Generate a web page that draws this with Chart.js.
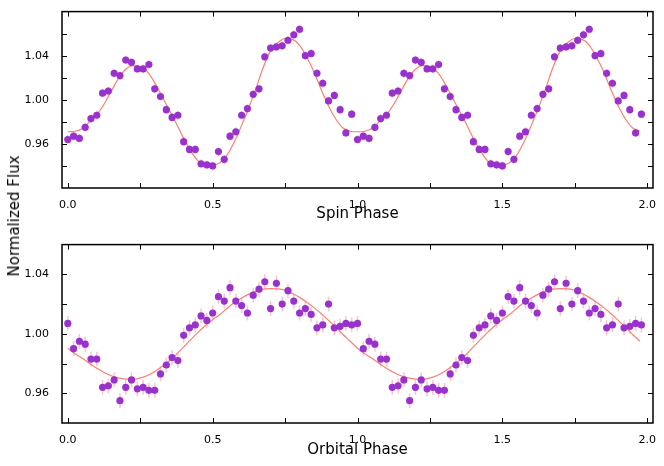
<!DOCTYPE html>
<html>
<head>
<meta charset="utf-8">
<script src="https://cdn.jsdelivr.net/npm/chart.js@4.4.1/dist/chart.umd.min.js"></script>
<style>
  body { margin: 0; background: #fff; }
  #wrap { position: relative; width: 664px; height: 466px; font-family: "DejaVu Sans", sans-serif; }
  .panel { position: absolute; left: 0; width: 664px; height: 233px; }
  #ylab { position: absolute; left: 14px; top: 216px; transform: translate(-50%, -50%) rotate(-90deg);
          font-size: 15px; white-space: nowrap; color: #000; }
</style>
</head>
<body>
<div id="wrap">
  <div class="panel" style="top:0"><canvas id="spinChart"></canvas></div>
  <div class="panel" style="top:233px"><canvas id="orbChart"></canvas></div>
  <div id="ylab">Normalized Flux</div>
</div>
<script>
// phase bins of one cycle (the plot shows the cycle twice, 0-2)
const binPhase = [0.00, 0.02, 0.04, 0.06, 0.08, 0.10, 0.12, 0.14, 0.16, 0.18,
                  0.20, 0.22, 0.24, 0.26, 0.28, 0.30, 0.32, 0.34, 0.36, 0.38,
                  0.40, 0.42, 0.44, 0.46, 0.48, 0.50, 0.52, 0.54, 0.56, 0.58,
                  0.60, 0.62, 0.64, 0.66, 0.68, 0.70, 0.72, 0.74, 0.76, 0.78,
                  0.80, 0.82, 0.84, 0.86, 0.88, 0.90, 0.92, 0.94, 0.96, 0.98];

const spinFlux = [0.964, 0.967, 0.965, 0.975, 0.983, 0.986, 1.006, 1.008, 1.024, 1.022,
                  1.036, 1.034, 1.028, 1.028, 1.032, 1.010, 1.003, 0.991, 0.984, 0.986,
                  0.962, 0.955, 0.955, 0.942, 0.941, 0.940, 0.953, 0.946, 0.967, 0.971,
                  0.986, 0.992, 1.005, 1.010, 1.039, 1.047, 1.048, 1.049, 1.054, 1.059,
                  1.064, 1.040, 1.042, 1.024, 1.015, 0.999, 1.004, 0.991, 0.970, 0.987];

const orbFlux = [1.007, 0.990, 0.995, 0.993, 0.983, 0.983, 0.964, 0.965, 0.969, 0.955,
                 0.964, 0.969, 0.963, 0.964, 0.962, 0.962, 0.973, 0.979, 0.984, 0.982,
                 0.999, 1.004, 1.006, 1.012, 1.009, 1.014, 1.025, 1.022, 1.031, 1.022,
                 1.019, 1.014, 1.026, 1.030, 1.035, 1.017, 1.034, 1.020, 1.029, 1.022,
                 1.014, 1.017, 1.013, 1.004, 1.006, 1.020, 1.004, 1.005, 1.007, 1.006];

const fitPhase = [0.000, 0.025, 0.050, 0.075, 0.100, 0.125, 0.150, 0.175, 0.200, 0.225,
                  0.250, 0.275, 0.300, 0.325, 0.350, 0.375, 0.400, 0.425, 0.450, 0.475,
                  0.500, 0.525, 0.550, 0.575, 0.600, 0.625, 0.650, 0.675, 0.700, 0.725,
                  0.750, 0.775, 0.800, 0.825, 0.850, 0.875, 0.900, 0.925, 0.950, 0.975];

const spinFit = [0.9710, 0.9715, 0.9740, 0.9800, 0.9865, 0.9960, 1.0077, 1.0194, 1.0277, 1.0310,
                 1.0303, 1.0253, 1.0156, 1.0032, 0.9909, 0.9782, 0.9650, 0.9532, 0.9444, 0.9405,
                 0.9408, 0.9430, 0.9500, 0.9620, 0.9768, 0.9930, 1.0106, 1.0297, 1.0444, 1.0518,
                 1.0556, 1.0548, 1.0497, 1.0386, 1.0253, 1.0091, 0.9944, 0.9826, 0.9744, 0.9715];

const orbFit = [0.9903, 0.9866, 0.9835, 0.9800, 0.9768, 0.9740, 0.9718, 0.9703, 0.9695, 0.9694,
                0.9703, 0.9720, 0.9747, 0.9780, 0.9817, 0.9862, 0.9912, 0.9962, 1.0011, 1.0056,
                1.0095, 1.0130, 1.0172, 1.0210, 1.0241, 1.0267, 1.0287, 1.0300, 1.0304, 1.0302,
                1.0293, 1.0271, 1.0245, 1.0212, 1.0176, 1.0135, 1.0090, 1.0045, 0.9995, 0.9950];

const spinErr = 0.004;
const orbErr = 0.005;

// ticks
const phaseTicks = [0, 0.25, 0.5, 0.75, 1.0, 1.25, 1.5, 1.75, 2.0];
const phaseLabels = ['0.0', '', '0.5', '', '1.0', '', '1.5', '', '2.0'];
const spinFluxTicks = [0.94, 0.96, 0.98, 1.00, 1.02, 1.04, 1.06];
const spinFluxLabels = ['', '0.96', '', '1.00', '', '1.04', ''];
const orbFluxTicks = [0.96, 0.98, 1.00, 1.02, 1.04];
const orbFluxLabels = ['0.96', '', '1.00', '', '1.04'];

const FONT = '"DejaVu Sans", sans-serif';

// two cycles from one
function twoCycles(xs, ys) {
  const pts = xs.map((p, i) => ({x: p, y: ys[i]}));
  return pts.concat(xs.map((p, i) => ({x: p + 1, y: ys[i]})));
}

// error bars behind the points, black frame and inward ticks
const frameTicks = {
  id: 'frameTicks',
  beforeDatasetsDraw(chart, args, opts) {
    const ctx = chart.ctx, xs = chart.scales.x, ys = chart.scales.y;
    ctx.save();
    ctx.strokeStyle = 'rgba(240,120,160,0.45)';
    ctx.lineWidth = 1.5;
    chart.data.datasets[1].data.forEach(p => {
      const px = xs.getPixelForValue(p.x);
      ctx.beginPath();
      ctx.moveTo(px, ys.getPixelForValue(p.y - opts.err));
      ctx.lineTo(px, ys.getPixelForValue(p.y + opts.err));
      ctx.stroke();
    });
    ctx.restore();
  },
  afterDraw(chart) {
    const ctx = chart.ctx, a = chart.chartArea, xs = chart.scales.x, ys = chart.scales.y;
    const len = 5;
    ctx.save();
    ctx.strokeStyle = '#000';
    ctx.lineWidth = 1;
    xs.ticks.forEach(t => {
      const px = Math.round(xs.getPixelForValue(t.value)) + 0.5;
      ctx.beginPath();
      ctx.moveTo(px, a.bottom); ctx.lineTo(px, a.bottom - len);
      ctx.moveTo(px, a.top); ctx.lineTo(px, a.top + len);
      ctx.stroke();
    });
    ys.ticks.forEach(t => {
      const py = Math.round(ys.getPixelForValue(t.value)) + 0.5;
      ctx.beginPath();
      ctx.moveTo(a.left, py); ctx.lineTo(a.left + len, py);
      ctx.moveTo(a.right, py); ctx.lineTo(a.right - len, py);
      ctx.stroke();
    });
    ctx.lineWidth = 1.5;
    ctx.strokeRect(a.left, a.top, a.right - a.left, a.bottom - a.top);
    ctx.restore();
  }
};

function makeChart(id, flux, fit, err, yTicks, yLabels, yMin, yMax, title, areaTop, areaBottom, titlePad) {
  return new Chart(document.getElementById(id), {
    type: 'scatter',
    data: {
      datasets: [{
        data: twoCycles(fitPhase, fit),
        showLine: true,
        borderColor: '#fa8072',
        borderWidth: 1.2,
        pointRadius: 0,
        cubicInterpolationMode: 'monotone',
        order: 1
      }, {
        data: twoCycles(binPhase, flux),
        pointRadius: 3.6,
        pointBackgroundColor: '#9932cc',
        pointBorderWidth: 0,
        order: 0
      }]
    },
    options: {
      responsive: true,
      maintainAspectRatio: false,
      animation: false,
      layout: {padding: {top: areaTop, right: 11, left: 0, bottom: 0}},
      plugins: {
        legend: {display: false},
        tooltip: {enabled: false},
        frameTicks: {err: err}
      },
      scales: {
        x: {
          type: 'linear', min: -0.02, max: 2.02,
          grid: {display: false}, border: {display: false},
          afterBuildTicks: s => { s.ticks = phaseTicks.map(v => ({value: v})); },
          afterFit: s => { s.height = 233 - areaBottom; },
          ticks: {
            autoSkip: false, maxRotation: 0, padding: 3, color: '#000',
            font: {family: FONT, size: 11},
            callback: (v, i) => phaseLabels[i]
          },
          title: {display: true, text: title, color: '#000',
                  font: {family: FONT, size: 15}, padding: {top: 0, bottom: titlePad}}
        },
        y: {
          min: yMin, max: yMax,
          grid: {display: false}, border: {display: false},
          afterBuildTicks: s => { s.ticks = yTicks.map(v => ({value: v})); },
          afterFit: s => { s.width = 62; },
          ticks: {
            autoSkip: false, padding: 5, color: '#000',
            font: {family: FONT, size: 11},
            callback: (v, i) => yLabels[i]
          }
        }
      }
    },
    plugins: [frameTicks]
  });
}

makeChart('spinChart', spinFlux, spinFit, spinErr, spinFluxTicks, spinFluxLabels,
          0.92, 1.08, 'Spin Phase', 6, 188, 10);
makeChart('orbChart', orbFlux, orbFit, orbErr, orbFluxTicks, orbFluxLabels,
          0.94, 1.06, 'Orbital Phase', 9, 190, 7);
</script>
</body>
</html>
